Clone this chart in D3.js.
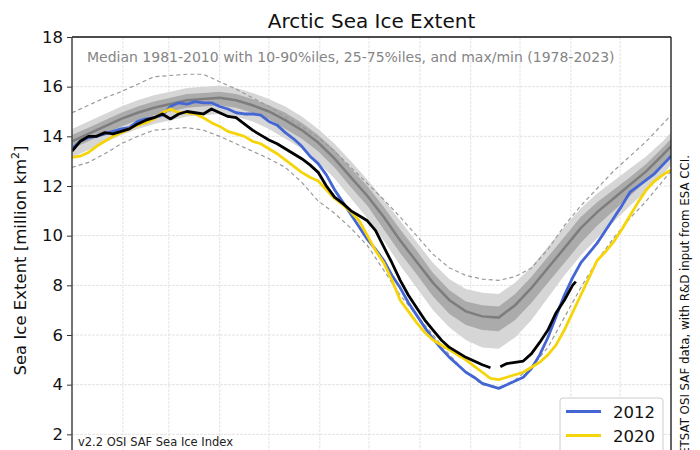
<!DOCTYPE html>
<html>
<head>
<meta charset="utf-8">
<script src="https://cdn.jsdelivr.net/npm/d3@7"></script>
<style>
html,body{margin:0;padding:0;background:#fff;}
svg{display:block;font-family:"DejaVu Sans",sans-serif;}
</style>
</head>
<body>
<svg id="chart" width="700" height="450"></svg>
<script>
// ---------- DATA ----------
const bandDays = [0,10,20,30,40,50,60,70,80,90,100,110,120,130,140,150,160,170,180,190,200,210,220,230,240,250,260,270,280,290,300,310,320,330,340,350,360,365];
const median = [13.8,14.1,14.4,14.7,14.95,15.15,15.3,15.45,15.5,15.55,15.45,15.25,15.0,14.65,14.25,13.75,13.1,12.35,11.6,10.75,9.8,8.95,8.1,7.4,6.95,6.75,6.7,7.2,7.9,8.7,9.5,10.3,10.95,11.5,12.05,12.6,13.25,13.6];
const p75 = [14.05,14.35,14.65,14.95,15.2,15.4,15.55,15.7,15.75,15.8,15.7,15.5,15.25,14.95,14.55,14.05,13.45,12.7,12.0,11.15,10.25,9.4,8.5,7.8,7.35,7.2,7.15,7.65,8.35,9.15,9.95,10.75,11.35,11.85,12.35,12.9,13.55,13.9];
const p25 = [13.5,13.8,14.1,14.4,14.65,14.85,15.0,15.15,15.2,15.25,15.15,14.95,14.7,14.3,13.9,13.4,12.75,11.95,11.2,10.25,9.3,8.45,7.55,6.85,6.4,6.2,6.15,6.6,7.3,8.1,8.9,9.7,10.4,11.0,11.6,12.2,12.85,13.2];
const p90 = [14.3,14.6,14.9,15.2,15.45,15.65,15.8,15.95,16.0,16.05,15.95,15.75,15.5,15.2,14.8,14.3,13.7,13.0,12.25,11.45,10.6,9.75,8.9,8.25,7.85,7.7,7.65,8.1,8.75,9.55,10.35,11.1,11.7,12.2,12.7,13.2,13.8,14.15];
const p10 = [13.15,13.45,13.75,14.05,14.3,14.5,14.65,14.8,14.85,14.9,14.8,14.6,14.3,13.9,13.5,12.95,12.3,11.5,10.7,9.8,8.8,7.9,7.0,6.3,5.8,5.5,5.45,5.9,6.6,7.5,8.4,9.2,9.9,10.55,11.2,11.8,12.45,12.85];
const maxExt = [14.95,15.25,15.55,15.8,16.1,16.4,16.45,16.5,16.5,16.2,15.9,15.55,15.2,14.8,14.4,13.95,13.4,12.75,12.1,11.45,10.75,10.0,9.25,8.7,8.4,8.25,8.2,8.35,8.7,9.45,10.4,11.2,11.9,12.6,13.2,13.8,14.5,14.85];
const minExt = [12.75,12.95,13.3,13.7,14.0,14.25,14.3,14.35,14.25,14.0,13.7,13.4,13.1,12.75,12.15,11.4,10.9,10.3,9.6,8.6,7.6,6.8,6.0,5.2,4.5,4.0,3.85,4.2,4.7,5.5,6.7,7.9,9.0,9.9,10.7,11.4,12.2,12.6];

const lineDays = [0,5,10,15,20,25,30,35,40,45,50,55,60,65,70,75,80,85,90,95,100,105,110,115,120,125,130,135,140,145,150,155,160,165,170,175,180,185,190,195,200,205,210,215,220,225,230,235,240,245,250,255,260,265,270,275,280,285,290,295,300,305,310,315,320,325,330,335,340,345,350,355,360,365];
const ext2012 = [13.5,13.8,13.95,14.0,14.1,14.2,14.3,14.35,14.6,14.7,14.75,14.85,15.2,15.35,15.3,15.4,15.35,15.35,15.2,15.1,14.95,14.9,14.9,14.85,14.6,14.45,14.15,13.9,13.6,13.2,12.9,12.45,11.85,11.35,10.85,10.35,9.85,9.45,9.0,8.4,7.9,7.3,6.8,6.3,5.85,5.45,5.1,4.8,4.5,4.3,4.05,3.95,3.85,4.0,4.15,4.3,4.65,5.2,5.9,6.75,7.6,8.3,8.9,9.3,9.7,10.2,10.7,11.2,11.75,12.0,12.25,12.5,12.85,13.2];
const ext2020 = [13.15,13.2,13.35,13.6,13.8,14.0,14.15,14.3,14.45,14.55,14.7,14.95,15.1,14.95,14.95,14.9,14.75,14.55,14.4,14.2,14.1,14.0,13.8,13.7,13.5,13.3,13.05,12.8,12.55,12.35,12.2,11.85,11.5,11.25,10.95,10.6,10.0,9.4,8.9,8.2,7.4,6.95,6.5,6.1,5.8,5.6,5.4,5.2,5.0,4.75,4.5,4.25,4.2,4.3,4.4,4.5,4.7,4.9,5.2,5.6,6.2,6.9,7.6,8.3,9.0,9.35,9.75,10.25,10.8,11.35,11.85,12.2,12.45,12.65];
const days2023 = [0,5,10,15,20,25,30,35,40,45,50,55,60,65,70,75,80,85,90,95,100,105,110,115,120,125,130,135,140,145,150,155,160,165,170,175,180,185,190,195,200,205,210,215,220,225,230,235,240,245,250,255,258,261,265,270,275,280,285,290,295,300,305,307];
const ext2023 = [13.4,13.8,14.0,14.0,14.15,14.1,14.2,14.3,14.5,14.65,14.75,14.9,14.7,14.9,15.0,14.95,14.9,15.1,14.95,14.8,14.75,14.5,14.25,14.05,13.85,13.7,13.5,13.3,13.1,12.85,12.55,12.0,11.55,11.3,11.0,10.8,10.6,10.2,9.55,8.9,8.2,7.6,7.1,6.6,6.2,5.8,5.5,5.3,5.1,4.95,4.8,4.68,null,4.72,4.85,4.9,4.95,5.25,5.7,6.2,6.9,7.4,8.0,8.15];

const monthStarts = [0,31,59,90,120,151,181,212,243,273,304,334,365];
const yTicks = [2,4,6,8,10,12,14,16,18];
const seriesNames = ["2012","2020","2023"];
const seriesColors = ["#4466d4","#f5d40a","#000000"];

// ---------- LAYOUT ----------
const svg = d3.select("#chart");
const L = 72, R = 671, T = 37, B = 484;
const x = d3.scaleLinear().domain([0,365]).range([L,R]);
const y = d3.scaleLinear().domain([0,18]).range([B,T]);

svg.append("defs").append("clipPath").attr("id","clip")
  .append("rect").attr("x",L).attr("y",T).attr("width",R-L).attr("height",B-T);

// grid
const grid = svg.append("g");
grid.selectAll("line.v").data(monthStarts.slice(1,-1)).join("line")
  .attr("x1",d=>x(d)).attr("x2",d=>x(d)).attr("y1",T).attr("y2",B)
  .attr("stroke","#e4e4e4").attr("stroke-width",1).attr("stroke-dasharray","3,1");
grid.selectAll("line.h").data(yTicks.filter(d=>d<18)).join("line")
  .attr("x1",L).attr("x2",R).attr("y1",d=>y(d)).attr("y2",d=>y(d))
  .attr("stroke","#e4e4e4").attr("stroke-width",1).attr("stroke-dasharray","3,1");

const plot = svg.append("g").attr("clip-path","url(#clip)");

const band = (lo, hi) => d3.area()
  .x((d,i)=>x(bandDays[i])).y0((d,i)=>y(lo[i])).y1((d,i)=>y(hi[i]));

plot.append("path").datum(bandDays).attr("d", band(p10,p90)).attr("fill","#d6d6d6");
plot.append("path").datum(bandDays).attr("d", band(p25,p75)).attr("fill","#ababab");
const bline = d3.line().x((d,i)=>x(bandDays[i])).y(d=>y(d));
plot.append("path").datum(median).attr("d", bline).attr("fill","none").attr("stroke","#7d7d7d").attr("stroke-width",2.5);
[maxExt, minExt].forEach(arr=>{
  plot.append("path").datum(arr).attr("d", bline).attr("fill","none")
    .attr("stroke","#9a9a9a").attr("stroke-width",1.2).attr("stroke-dasharray","4,3");
});

const lline = d3.line().x((d,i)=>x(lineDays[i])).y(d=>y(d));
plot.append("path").datum(ext2012).attr("d", lline).attr("fill","none").attr("stroke",seriesColors[0]).attr("stroke-width",2.8).attr("stroke-linejoin","round");
plot.append("path").datum(ext2020).attr("d", lline).attr("fill","none").attr("stroke",seriesColors[1]).attr("stroke-width",2.8).attr("stroke-linejoin","round");
const bl = d3.line().defined(d=>d!==null).x((d,i)=>x(days2023[i])).y(d=>y(d));
plot.append("path").datum(ext2023).attr("d", bl).attr("fill","none").attr("stroke",seriesColors[2]).attr("stroke-width",2.8).attr("stroke-linejoin","round");

// axes
const yAxis = d3.axisLeft(y).tickValues(yTicks).tickSize(5).tickPadding(4);
const gy = svg.append("g").attr("transform",`translate(${L},0)`).call(yAxis);
gy.select(".domain").remove();
gy.selectAll("text").attr("font-size","16.5px").attr("fill","#111").attr("font-family","DejaVu Sans");
gy.selectAll("line").attr("stroke","#333");

const xAxis = d3.axisBottom(x).tickValues(monthStarts.slice(0,-1)).tickFormat("");
svg.append("g").attr("transform",`translate(0,${B})`).call(xAxis);

// frame
svg.append("line").attr("x1",L).attr("x2",R).attr("y1",T).attr("y2",T).attr("stroke","#111").attr("stroke-width",1.3);
svg.append("line").attr("x1",R).attr("x2",R).attr("y1",T).attr("y2",B).attr("stroke","#111").attr("stroke-width",1.3);
svg.append("line").attr("x1",L).attr("x2",L).attr("y1",T).attr("y2",B).attr("stroke","#444").attr("stroke-width",1.5);

// texts
svg.append("text").attr("x",(L+R)/2).attr("y",28).attr("text-anchor","middle")
  .attr("font-size","20px").attr("fill","#111").text("Arctic Sea Ice Extent");
svg.append("text").attr("x",87).attr("y",62).attr("font-size","14px").attr("fill","#858585")
  .text("Median 1981-2010 with 10-90%iles, 25-75%iles, and max/min (1978-2023)");
svg.append("text").attr("x",78).attr("y",446).attr("font-size","11.5px").attr("fill","#222")
  .text("v2.2 OSI SAF Sea Ice Index");
const yl = svg.append("text").attr("transform",`translate(26,${(T+B)/2}) rotate(-90)`)
  .attr("text-anchor","middle").attr("font-size","16.5px").attr("fill","#111");
yl.append("tspan").text("Sea Ice Extent [million km");
yl.append("tspan").attr("font-size","11px").attr("dy","-7").text("2");
yl.append("tspan").attr("dy","7").text("]");
svg.append("text").attr("transform",`translate(689,155) rotate(-90)`)
  .attr("text-anchor","end").attr("font-size","11.8px").attr("fill","#111")
  .text("Source: EUMETSAT OSI SAF data, with R&D input from ESA CCI.");

// legend
const lg = svg.append("g");
lg.append("rect").attr("x",560).attr("y",398).attr("width",103).attr("height",78).attr("rx",3)
  .attr("fill","#fff").attr("fill-opacity",0.85).attr("stroke","#cccccc");
seriesNames.forEach((n,i)=>{
  const yy = 411.5 + i*24;
  lg.append("line").attr("x1",566).attr("x2",601).attr("y1",yy).attr("y2",yy)
    .attr("stroke",seriesColors[i]).attr("stroke-width",2.8);
  lg.append("text").attr("x",613).attr("y",yy+6).attr("font-size","16.5px").attr("fill","#111").text(n);
});
</script>
</body>
</html>
